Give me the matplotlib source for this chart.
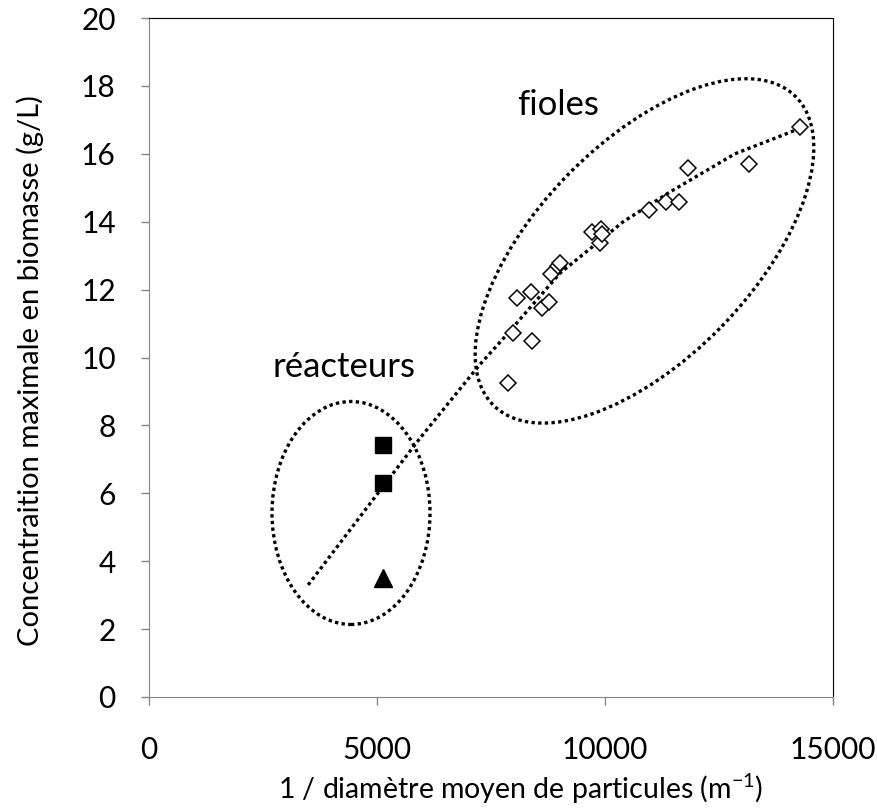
import matplotlib
matplotlib.use("Agg")
import matplotlib.pyplot as plt
from matplotlib.patches import Ellipse
from matplotlib.transforms import Affine2D

plt.rcParams['font.family'] = ['Lato', 'DejaVu Sans']

# fioles (losanges vides)
fioles_x = [7870, 7990, 8060, 8370, 8410, 8610, 8780, 8820, 8980, 9010,
            9720, 9890, 9910, 9940, 10970, 11330, 11630, 11810, 13160, 14280]
fioles_y = [9.24, 10.73, 11.74, 11.94, 10.49, 11.45, 11.63, 12.45, 12.69, 12.77,
            13.69, 13.36, 13.78, 13.64, 14.34, 14.59, 14.59, 15.57, 15.70, 16.80]

# réacteurs
carres_x = [5140, 5140]
carres_y = [7.42, 6.31]
triangle_x = [5140]
triangle_y = [3.50]

# courbe de tendance
tendance_x = [3490, 4990, 5940, 7260, 7770, 9010, 10400, 11430, 12850, 14280]
tendance_y = [3.30, 5.95, 7.62, 9.80, 10.56, 12.48, 14.00, 14.88, 16.00, 16.75]

xticks = [0, 5000, 10000, 15000]
yticks = [0, 2, 4, 6, 8, 10, 12, 14, 16, 18, 20]

W, H = 877, 811
fig = plt.figure(figsize=(W / 100, H / 100), dpi=100)
ax = fig.add_axes([149 / W, 114 / H, 684 / W, 679 / H])

dot = (0, (1, 1))
lw_dot = 2.4
ax.plot(tendance_x, tendance_y, color='black', lw=lw_dot, linestyle=dot,
        dash_capstyle='butt', zorder=2)
ax.plot(fioles_x, fioles_y, linestyle='none', marker='D', ms=8.5,
        mfc='white', mec='black', mew=1.1, zorder=3)
ax.plot(carres_x, carres_y, linestyle='none', marker='s', ms=12,
        color='black', zorder=3)
ax.plot(triangle_x, triangle_y, linestyle='none', marker='^', ms=12.5,
        color='black', zorder=3)

ax.set_xlim(0, 15000)
ax.set_ylim(0, 20)

# ellipses (dimensions en pixels) autour des groupes
px = Affine2D().scale(15000 / 684, 20 / 679)
e1 = Ellipse((0, 0), 2 * 216, 2 * 108, angle=45.8, fill=False, color='black',
             lw=lw_dot, linestyle=dot)
e1.set_transform(px + Affine2D().translate(10866, 13.14) + ax.transData)
ax.add_patch(e1)
e2 = Ellipse((0, 0), 158, 223, angle=0, fill=False, color='black',
             lw=lw_dot, linestyle=dot)
e2.set_transform(px + Affine2D().translate(4430, 5.42) + ax.transData)
ax.add_patch(e2)

ax.text(8970, 17.14, 'fioles', fontsize=25, ha='center', va='baseline')
ax.text(4280, 9.43, 'réacteurs', fontsize=25, ha='center', va='baseline')

ax.set_xticks(xticks)
ax.set_yticks(yticks)
ax.tick_params(axis='both', direction='out', length=6, width=1,
               color='#868686', labelsize=21.5)
ax.tick_params(axis='y', pad=18)
ax.tick_params(axis='x', pad=22)
for s in ['left', 'bottom']:
    ax.spines[s].set_color('#868686')
for s in ['top', 'right']:
    ax.spines[s].set_color('black')

fig.text(521 / W, 1 - 789 / H, '1 / diamètre moyen de particules (m$^{\\mathregular{-1}}$)',
         fontsize=20.5, ha='center', va='center')
fig.text(30 / W, 1 - 371 / H, 'Concentraition maximale en biomasse (g/L)',
         fontsize=21, ha='center', va='center', rotation=90)

fig.savefig('out.png', dpi=100)
